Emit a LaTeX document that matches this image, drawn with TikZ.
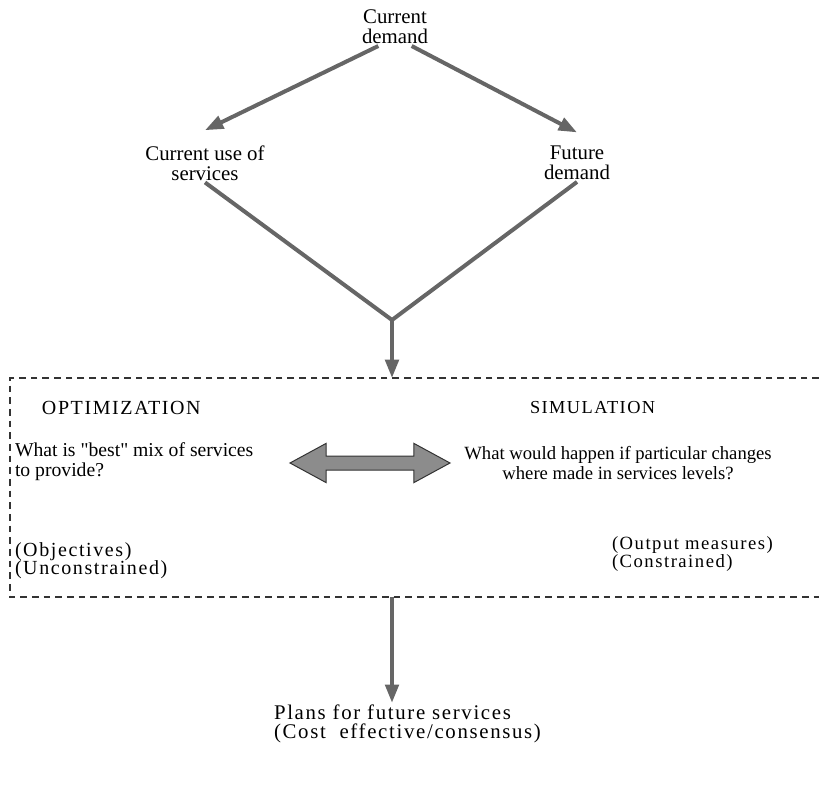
\documentclass[tikz,border=0pt]{standalone}
\usepackage{fontspec}
\setmainfont{Liberation Serif}
\newfontfamily\widefont[LetterSpace=8]{Liberation Serif}
\usetikzlibrary{arrows.meta,shapes.arrows}
\tikzstyle{Label} = [inner sep=1pt, align=center,
    font=\fontsize{12.5}{12}\selectfont]
\tikzstyle{WideLabel} = [inner sep=1pt, align=left,
    font=\widefont\fontsize{12}{11}\selectfont]
\tikzstyle{arrow} = [draw=black!60, line width=2.4pt,
    -{Triangle[length=11pt,width=8pt]}]
\tikzstyle{BoxLine} = [draw=black!80, line width=0.9pt, dash pattern=on 4pt off 3pt]
\tikzstyle{SwapArrow} = [double arrow, draw=black!80, fill=black!45, line width=0.6pt,
    minimum height=96pt, inner xsep=0pt, inner ysep=3.9pt,
    double arrow head extend=7.6pt, double arrow tip angle=57]

\begin{document}
\begin{tikzpicture}[x=0.6pt, y=-0.6pt]
        \useasboundingbox (0,0) rectangle (819,786);
        \node[Label] (CurrentDemand) at (395,27) {Current\\demand};
        \node[Label] (CurrentUse) at (205,163) {Current use of\\services};
        \node[Label] (FutureDemand) at (577,163) {Future\\demand};
        \coordinate (Join) at (392,320); %where the two lines meet
        \coordinate (BoxTop) at (392,378);
        \coordinate (BoxBottom) at (392,597);
        \draw [BoxLine] (819,378) -- (10,378) -- (10,597) -- (819,597); %dashed box
        \draw [arrow] ([xshift=-10pt]CurrentDemand.south) -- ([yshift=8pt]CurrentUse.north);
        \draw [arrow] ([xshift=10pt]CurrentDemand.south) -- ([yshift=7pt]FutureDemand.north);
        \draw [arrow, -] (CurrentUse.south) -- (Join);
        \draw [arrow, -] (FutureDemand.south) -- (Join);
        \draw [arrow] (Join) -- (BoxTop);
        \node[WideLabel, anchor=west] (Optimization) at (40,408) {OPTIMIZATION};
        \node[WideLabel, anchor=west, font=\widefont\fontsize{11}{11}\selectfont] (Simulation) at (528,408) {SIMULATION};
        \node[Label, align=left, anchor=west, font=\fontsize{11.8}{12}\selectfont] (OptQuestion) at (13,462)
            {What is \textquotedbl best\textquotedbl{} mix of services\\to provide?};
        \node[Label, font=\fontsize{11.2}{12.5}\selectfont] (SimQuestion) at (618,463)
            {What would happen if particular changes\\where made in services levels?};
        \node[SwapArrow] (Swap) at (370,463) {};
        \node[WideLabel, anchor=west] (Objectives) at (13,561) {(Objectives)\\(Unconstrained)};
        \node[WideLabel, anchor=west, font=\widefont\fontsize{11.2}{10.5}\selectfont] (Output) at (610,554)
            {(Output measures)\\(Constrained)};
        \node[WideLabel, anchor=west, font=\widefont\fontsize{12.5}{11.5}\selectfont] (Plans) at (272,724)
            {Plans for future services\\(Cost\ \ effective/consensus)};
        \draw [arrow] (BoxBottom) -- (BoxBottom |- Plans.north);
    \end{tikzpicture}
\end{document}
